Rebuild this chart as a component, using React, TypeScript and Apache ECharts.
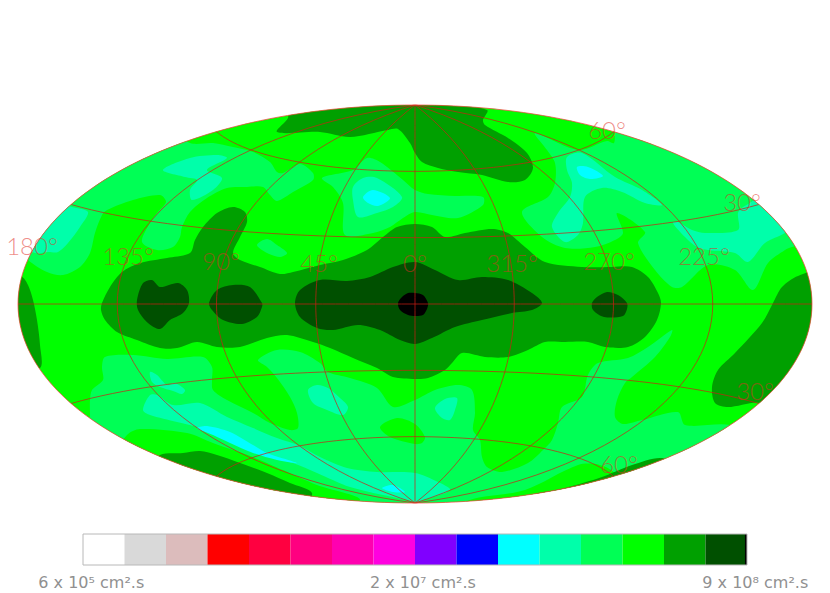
import React, { useEffect, useRef } from "react";
import * as echarts from "echarts";

// Contour levels of the sky map (traced positions on the 830x593 page)
const LIME = "#00ff00";
const SPRING = "#00ff55";
const AQUA = "#00ffaa";
const CYAN = "#00ffff";
const GREEN = "#00a000";
const DARK = "#005000";
const BLACK = "#000000";

const springUpperLeft = [[28,260],[47,272],[63,275],[80,267],[90,253],[95,233],[102,215],[107,210],[133,200],[160,195],[166,202],[157,213],[150,223],[142,242],[157,250],[173,247],[180,237],[182,227],[190,212],[207,198],[227,188],[247,187],[263,187],[270,195],[277,201],[293,192],[313,180],[313,173],[300,164],[283,173],[277,172],[270,162],[253,152],[233,147],[213,143],[190,143],[150,120],[60,180],[10,240]];
const springCentre = [[322,178],[333,187],[343,203],[345,235],[373,233],[390,227],[403,218],[415,212],[432,215],[458,218],[483,205],[483,197],[455,196],[428,194],[415,190],[403,180],[380,162],[367,158],[353,170]];
const springSmall = [[257,245],[267,239],[277,245],[287,253],[280,257],[267,253]];
const springUpperRight = [[535,133],[547,150],[555,163],[555,183],[548,197],[522,212],[542,237],[565,248],[595,247],[615,240],[623,233],[617,213],[645,232],[638,243],[655,270],[672,287],[682,287],[708,265],[735,270],[753,290],[768,263],[785,250],[792,247],[815,240],[790,180],[660,115],[617,125],[614,143],[607,141],[578,150]];
const springLower = [[90,415],[90,400],[92,390],[103,380],[102,367],[105,357],[133,355],[167,359],[203,357],[212,367],[212,380],[213,390],[227,400],[253,413],[270,423],[290,430],[298,428],[297,413],[290,397],[277,378],[267,367],[258,360],[277,350],[300,352],[320,363],[328,372],[350,378],[377,388],[393,407],[415,400],[435,390],[458,385],[472,390],[475,413],[473,430],[480,440],[482,457],[487,467],[502,472],[528,463],[543,450],[552,440],[558,423],[562,407],[582,397],[588,375],[598,363],[628,358],[648,347],[672,330],[670,337],[655,357],[632,377],[625,383],[617,400],[615,417],[623,424],[642,420],[678,412],[685,425],[730,425],[760,440],[600,520],[415,540],[200,500],[90,430]];

const limeCentreLow = [[380,427],[397,418],[415,424],[425,437],[422,443],[415,444],[390,437]];
const limeBottomLeft = [[127,435],[140,429],[187,433],[213,443],[253,457],[283,470],[317,485],[360,500],[300,520],[120,450]];
const limeBottomRight = [[465,502],[525,490],[578,465],[600,465],[615,475],[600,510],[470,520]];

const aquaTopLeft = [[163,170],[190,158],[217,155],[227,158],[207,170],[222,178],[213,190],[192,200],[190,190],[197,180],[185,177]];
const aquaEdgeLeft = [[72,207],[88,212],[80,227],[68,243],[58,252],[48,252],[35,253],[20,240],[50,200]];
const aquaCentre = [[353,187],[363,178],[377,178],[402,197],[393,207],[377,213],[358,217],[353,200]];
const aquaTopRight = [[567,157],[582,153],[615,177],[642,190],[662,205],[645,203],[622,192],[602,188],[585,197],[583,223],[578,235],[565,242],[552,227],[558,213],[570,197],[572,183],[567,170]];
const aquaRight = [[673,223],[685,237],[697,247],[708,250],[735,253],[748,262],[765,243],[785,233],[800,220],[770,195],[743,207],[738,213],[738,230],[705,233],[692,230],[678,222]];
const aquaBand = [[143,410],[150,395],[157,395],[173,405],[200,403],[227,417],[253,428],[277,438],[300,446],[320,457],[347,468],[377,472],[415,473],[438,482],[450,490],[418,502],[415,502],[397,498],[350,487],[317,473],[293,463],[263,455],[233,442],[200,428],[177,422],[150,415]];
const aquaSliver = [[150,372],[157,375],[167,385],[175,383],[185,390],[182,394],[173,391],[160,387],[152,382]];
const aquaLowCentre = [[308,390],[317,385],[328,388],[340,398],[348,407],[343,415],[327,410],[313,403]];
const aquaLowRight = [[435,408],[445,399],[457,398],[455,410],[450,420],[442,418]];

const cyanCentre = [[363,197],[373,190],[390,198],[378,206],[368,203]];
const cyanTopRight = [[577,167],[588,167],[603,176],[590,179],[580,175]];
const cyanBand = [[197,428],[207,426],[230,432],[253,445],[267,453],[297,463],[277,460],[253,453],[230,443],[213,435]];
const cyanBottom = [[382,488],[393,485],[405,492],[393,492]];

const greenBand = [[102,303],[110,287],[122,272],[140,263],[167,258],[190,253],[195,240],[203,227],[217,213],[233,207],[245,212],[247,222],[240,237],[233,253],[240,260],[260,267],[280,274],[293,272],[320,265],[343,260],[367,250],[383,237],[397,227],[415,224],[432,227],[445,237],[465,233],[492,229],[508,233],[525,247],[545,262],[582,267],[612,267],[632,267],[648,277],[658,293],[661,303],[657,320],[645,337],[628,347],[605,347],[588,342],[565,342],[545,342],[528,350],[508,357],[485,357],[462,353],[452,363],[445,370],[428,378],[415,379],[393,377],[377,368],[353,358],[330,348],[313,342],[287,335],[267,338],[240,347],[217,347],[197,342],[177,348],[160,348],[137,340],[117,332],[105,320],[101,310]];
const greenTop = [[288,118],[277,132],[320,132],[350,137],[388,130],[398,129],[410,143],[415,153],[422,162],[438,168],[458,172],[482,175],[508,182],[525,180],[533,168],[527,153],[508,138],[485,125],[483,120],[487,110],[415,95],[300,100],[288,110]];
const greenLeftEdge = [[22,277],[28,285],[33,300],[37,320],[40,345],[40,368],[10,368],[5,300],[10,277]];
const greenRightEdge = [[773,303],[782,287],[798,276],[830,270],[830,420],[758,420],[760,403],[728,407],[715,403],[712,387],[718,370],[735,353],[762,323]];
const greenBottomLeft = [[160,455],[183,453],[200,451],[217,455],[240,463],[267,473],[290,483],[312,493],[300,510],[150,470]];
const greenBottomRight = [[525,497],[565,488],[602,477],[632,465],[662,458],[680,470],[560,520],[520,510]];

const darkLeft = [[137,300],[143,283],[152,280],[160,287],[178,283],[187,290],[189,303],[183,313],[170,320],[160,329],[148,323],[138,310]];
const darkMiddle = [[209,303],[217,290],[233,285],[250,287],[262,303],[262,307],[257,317],[242,324],[223,320],[212,310]];
const darkCentre = [[295,303],[300,290],[320,280],[347,281],[370,277],[393,267],[415,262],[435,270],[458,280],[482,277],[508,280],[532,293],[542,303],[532,310],[512,313],[482,320],[455,327],[432,338],[415,344],[400,340],[380,330],[358,325],[333,330],[317,328],[300,317]];
const darkRight = [[592,303],[597,297],[607,292],[618,295],[627,303],[627,309],[623,316],[604,317],[593,310]];

const blackCore = [[398,303],[402,297],[408,293],[415,293],[423,295],[428,303],[427,309],[423,315],[415,316],[408,315],[400,310]];

const contourLayers: [string, number[][]][] = [
  [SPRING, springUpperLeft], [SPRING, springCentre], [SPRING, springSmall], [SPRING, springUpperRight], [SPRING, springLower],
  [LIME, limeCentreLow], [LIME, limeBottomLeft], [LIME, limeBottomRight],
  [AQUA, aquaTopLeft], [AQUA, aquaEdgeLeft], [AQUA, aquaCentre], [AQUA, aquaTopRight], [AQUA, aquaRight], [AQUA, aquaBand], [AQUA, aquaSliver], [AQUA, aquaLowCentre], [AQUA, aquaLowRight],
  [CYAN, cyanCentre], [CYAN, cyanTopRight], [CYAN, cyanBand], [CYAN, cyanBottom],
  [GREEN, greenBand], [GREEN, greenTop], [GREEN, greenLeftEdge], [GREEN, greenRightEdge], [GREEN, greenBottomLeft], [GREEN, greenBottomRight],
  [DARK, darkLeft], [DARK, darkMiddle], [DARK, darkCentre], [DARK, darkRight],
  [BLACK, blackCore],
];

const meridians = [-135, -90, -45, 0, 45, 90, 135];
const parallels = [-60, -30, 0, 30, 60];
const scaleLabels = ["6 x 10\u2075 cm\u00b2.s", "2 x 10\u2077 cm\u00b2.s", "9 x 10\u2078 cm\u00b2.s"];
const scaleLabelStops = [0.2, 8.19, 16.2];
const gratLabels: [string, number, number][] = [
  ["180\u00b0", 32, 245], ["135\u00b0", 128, 255], ["90\u00b0", 221, 260], ["45\u00b0", 319, 262],
  ["0\u00b0", 415, 262], ["315\u00b0", 512, 262], ["270\u00b0", 609, 260], ["225\u00b0", 704, 255],
  ["60\u00b0", 607, 129], ["30\u00b0", 742, 201], ["30\u00b0", 755, 390], ["60\u00b0", 619, 463],
];
const barColors = ["#ffffff", "#d9d9d9", "#dcbcbc", "#ff0000", "#ff0040", "#ff0080", "#ff00b0", "#ff00e0", "#8000ff", "#0000ff", "#00ffff", "#00ffaa", "#00ff55", "#00ff00", "#00a000", "#005000"];

// Reference position -> Aitoff plane in degrees
const CX = 415, CY = 304, RX = 397, RY = 199;
const toPlane = (p: number[]) => [((p[0] - CX) / RX) * 180, ((CY - p[1]) / RY) * 90];

function aitoff(lonDeg: number, latDeg: number) {
  const l = (lonDeg * Math.PI) / 180, f = (latDeg * Math.PI) / 180;
  const a = Math.acos(Math.cos(f) * Math.cos(l / 2));
  const k = a < 1e-6 ? 1 : a / Math.sin(a);
  return [((2 * Math.cos(f) * Math.sin(l / 2) * k) / Math.PI) * 180, ((Math.sin(f) * k) / (Math.PI / 2)) * 90];
}

const STEPS = Array.from({ length: 61 }, (_, i) => i / 60);
const lines: number[][][] = [
  ...meridians.map((m) => STEPS.map((t) => aitoff(m, -89.9 + 179.8 * t))),
  ...parallels.map((p) => STEPS.map((t) => aitoff(-180 + 360 * t, p))),
];

const RED = "rgba(205,30,20,0.7)";

export default function App() {
  const ref = useRef<HTMLDivElement>(null);
  useEffect(() => {
    const chart = echarts.init(ref.current!, undefined, { renderer: "svg" });
    const clip = (api: any) => {
      const c = api.coord([0, 0]);
      const e = api.coord([180, 90]);
      return { type: "ellipse", shape: { cx: c[0], cy: c[1], rx: e[0] - c[0], ry: c[1] - e[1] } };
    };
    chart.setOption({
      animation: false,
      backgroundColor: "#ffffff",
      grid: [
        { left: CX - RX, width: 2 * RX, top: CY - RY, height: 2 * RY },
        { left: 83, width: 664, top: 534, height: 31 },
      ],
      xAxis: [
        { gridIndex: 0, type: "value", min: -180, max: 180, show: false },
        { gridIndex: 1, type: "value", min: 0, max: 16, show: false },
      ],
      yAxis: [
        { gridIndex: 0, type: "value", min: -90, max: 90, show: false },
        { gridIndex: 1, type: "value", min: 0, max: 1, show: false },
      ],
      series: [
        {
          type: "custom", xAxisIndex: 0, yAxisIndex: 0, silent: true, clip: false,
          data: [[0]],
          renderItem: (_: any, api: any) => {
            const s = clip(api);
            return { type: "ellipse", shape: s.shape, style: { fill: LIME, stroke: "none" } };
          },
        },
        {
          type: "custom", xAxisIndex: 0, yAxisIndex: 0, silent: true, clip: false,
          data: contourLayers.map((_, i) => [i]),
          renderItem: (p: any, api: any) => {
            const [fill, pts] = contourLayers[p.dataIndex];
            return {
              type: "polygon",
              shape: { points: pts.map((q) => api.coord(toPlane(q))), smooth: 0.3 },
              style: { fill, stroke: "none" },
              clipPath: clip(api),
            };
          },
        },
        {
          type: "custom", xAxisIndex: 0, yAxisIndex: 0, silent: true, clip: false,
          data: lines.map((_, i) => [i]),
          renderItem: (p: any, api: any) => ({
            type: "polyline",
            shape: { points: lines[p.dataIndex].map((q) => api.coord(q)) },
            style: { fill: "none", stroke: RED, lineWidth: 1 },
          }),
        },
        {
          type: "custom", xAxisIndex: 0, yAxisIndex: 0, silent: true, clip: false,
          data: [[0]],
          renderItem: (_: any, api: any) => {
            const s = clip(api);
            return { type: "ellipse", shape: s.shape, style: { fill: "none", stroke: "rgba(240,70,60,0.75)", lineWidth: 1 } };
          },
        },
        {
          type: "custom", xAxisIndex: 0, yAxisIndex: 0, silent: true, clip: false,
          data: gratLabels.map((_, i) => [i]),
          renderItem: (p: any, api: any) => {
            const [t, x, y] = gratLabels[p.dataIndex];
            const c = api.coord(toPlane([x, y]));
            return {
              type: "text", x: c[0], y: c[1],
              style: { text: t, fill: "rgba(225,45,35,0.55)", font: '300 24px "Lato", "Liberation Sans", sans-serif', align: "center", verticalAlign: "middle" },
            };
          },
        },
        {
          type: "custom", xAxisIndex: 1, yAxisIndex: 1, silent: true, clip: false,
          data: barColors.map((_, i) => [i]),
          renderItem: (p: any, api: any) => {
            const i = p.dataIndex;
            const a = api.coord([i, 1]);
            const b = api.coord([i + 1, 0]);
            return { type: "rect", shape: { x: a[0], y: a[1], width: b[0] - a[0], height: b[1] - a[1] }, style: { fill: barColors[i], stroke: "none" } };
          },
        },
        {
          type: "custom", xAxisIndex: 1, yAxisIndex: 1, silent: true, clip: false,
          data: [[15.95]],
          renderItem: (_: any, api: any) => {
            const a = api.coord([15.95, 1]);
            const b = api.coord([16, 0]);
            return { type: "rect", shape: { x: a[0], y: a[1], width: b[0] - a[0], height: b[1] - a[1] }, style: { fill: BLACK, stroke: "none" } };
          },
        },
        {
          type: "custom", xAxisIndex: 1, yAxisIndex: 1, silent: true, clip: false,
          data: [[0]],
          renderItem: (_: any, api: any) => {
            const a = api.coord([0, 1]);
            const b = api.coord([16, 0]);
            return { type: "rect", shape: { x: a[0], y: a[1], width: b[0] - a[0], height: b[1] - a[1] }, style: { fill: "none", stroke: "#b8b8b8", lineWidth: 1 } };
          },
        },
        {
          type: "custom", xAxisIndex: 1, yAxisIndex: 1, silent: true, clip: false,
          data: scaleLabels.map((_, i) => [i]),
          renderItem: (p: any, api: any) => {
            const i = p.dataIndex;
            const c = api.coord([scaleLabelStops[i], -0.55]);
            return {
              type: "text", x: c[0], y: c[1],
              style: { text: scaleLabels[i], fill: "#909090", font: '16px "DejaVu Sans", sans-serif', align: "center", verticalAlign: "middle" },
            };
          },
        },
      ],
    });
    return () => chart.dispose();
  }, []);
  return <div ref={ref} style={{ position: "absolute", left: 0, top: 0, width: 830, height: 593 }} />;
}
